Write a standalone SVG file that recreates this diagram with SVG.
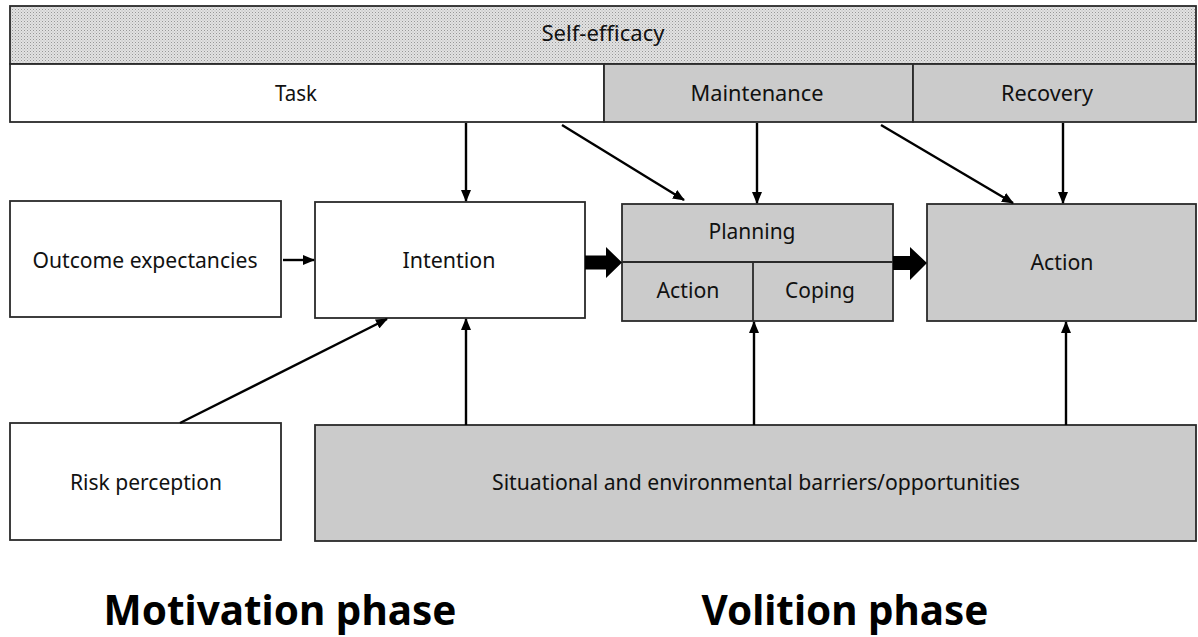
<svg xmlns="http://www.w3.org/2000/svg" width="1198" height="637" viewBox="0 0 1198 637">
<style>
.box{stroke:#2a2a2a;stroke-width:1.8}
.w{fill:#fff}
.g{fill:#cbcbcb}
.t{font-family:"Noto Sans","Open Sans",sans-serif;font-size:21px;fill:#111;text-anchor:middle;dominant-baseline:central}
.big{font-family:"Noto Sans","Open Sans",sans-serif;font-size:41px;font-weight:bold;fill:#000;text-anchor:middle}
.c{stroke:#000;stroke-width:2.4;fill:none;marker-end:url(#ah)}
</style>
<defs>
<pattern id="dots" width="3" height="3" patternUnits="userSpaceOnUse">
<rect width="3" height="3" fill="#e2e2e2"/>
<rect width="1" height="1" fill="#979797"/>
<rect x="1.5" y="1.5" width="1" height="1" fill="#b3b3b3"/>
</pattern>
<marker id="ah" markerWidth="12" markerHeight="10" refX="11" refY="5" orient="auto" markerUnits="userSpaceOnUse">
<path d="M0,0 L12,5 L0,10 Z" fill="#000"/>
</marker>
</defs>
<rect width="1198" height="637" fill="#fff"/>
<g id="self-efficacy">
<rect class="box" x="10" y="6" width="1186" height="58" fill="url(#dots)"/>
<text class="t" x="603" y="33" textLength="123" lengthAdjust="spacingAndGlyphs">Self-efficacy</text>
</g>
<g id="task">
<rect class="box w" x="10" y="64" width="594" height="58"/>
<text class="t" x="296" y="93" textLength="42" lengthAdjust="spacingAndGlyphs">Task</text>
</g>
<g id="maintenance">
<rect class="box g" x="604" y="64" width="309" height="58"/>
<text class="t" x="757" y="93" textLength="133" lengthAdjust="spacingAndGlyphs">Maintenance</text>
</g>
<g id="recovery">
<rect class="box g" x="913" y="64" width="283" height="58"/>
<text class="t" x="1047" y="93" textLength="92" lengthAdjust="spacingAndGlyphs">Recovery</text>
</g>
<g id="outcome">
<rect class="box w" x="10" y="201" width="271" height="116"/>
<text class="t" x="145" y="260" textLength="225" lengthAdjust="spacingAndGlyphs">Outcome expectancies</text>
</g>
<g id="intention">
<rect class="box w" x="315" y="202" width="270" height="116"/>
<text class="t" x="449" y="260" textLength="93" lengthAdjust="spacingAndGlyphs">Intention</text>
</g>
<g id="planning">
<rect class="box g" x="622" y="204" width="271" height="117"/>
<line class="box" x1="622" y1="262" x2="893" y2="262"/>
<line class="box" x1="753" y1="262" x2="753" y2="321"/>
<text class="t" x="752" y="231" textLength="87" lengthAdjust="spacingAndGlyphs">Planning</text>
<text class="t" x="688" y="290" textLength="63" lengthAdjust="spacingAndGlyphs">Action</text>
<text class="t" x="820" y="290" textLength="70" lengthAdjust="spacingAndGlyphs">Coping</text>
</g>
<g id="action">
<rect class="box g" x="927" y="204" width="269" height="117"/>
<text class="t" x="1062" y="262" textLength="63" lengthAdjust="spacingAndGlyphs">Action</text>
</g>
<g id="risk">
<rect class="box w" x="10" y="423" width="271" height="117"/>
<text class="t" x="146" y="482" textLength="152" lengthAdjust="spacingAndGlyphs">Risk perception</text>
</g>
<g id="barriers">
<rect class="box g" x="315" y="425" width="881" height="116"/>
<text class="t" x="756" y="482" textLength="528" lengthAdjust="spacingAndGlyphs">Situational and environmental barriers/opportunities</text>
</g>
<g id="connectors">
<line class="c" x1="466" y1="123" x2="466" y2="201"/>
<line class="c" x1="562" y1="125" x2="684" y2="200"/>
<line class="c" x1="757" y1="123" x2="757" y2="203"/>
<line class="c" x1="881" y1="125" x2="1013" y2="203"/>
<line class="c" x1="1063" y1="123" x2="1063" y2="203"/>
<line class="c" x1="283" y1="260" x2="314" y2="260"/>
<line class="c" x1="180" y1="423" x2="387" y2="319"/>
<line class="c" x1="466" y1="425" x2="466" y2="319"/>
<line class="c" x1="754" y1="425" x2="754" y2="322"/>
<line class="c" x1="1066" y1="425" x2="1066" y2="322"/>
<polygon points="585,255.5 606,255.5 606,247 622,262.5 606,278 606,269.5 585,269.5" fill="#000"/>
<polygon points="893,256 910,256 910,247 927,263 910,280 910,270 893,270" fill="#000"/>
</g>
<g id="phases">
<text class="big" x="280" y="625" textLength="353" lengthAdjust="spacingAndGlyphs">Motivation phase</text>
<text class="big" x="845" y="625" textLength="287" lengthAdjust="spacingAndGlyphs">Volition phase</text>
</g>
</svg>
